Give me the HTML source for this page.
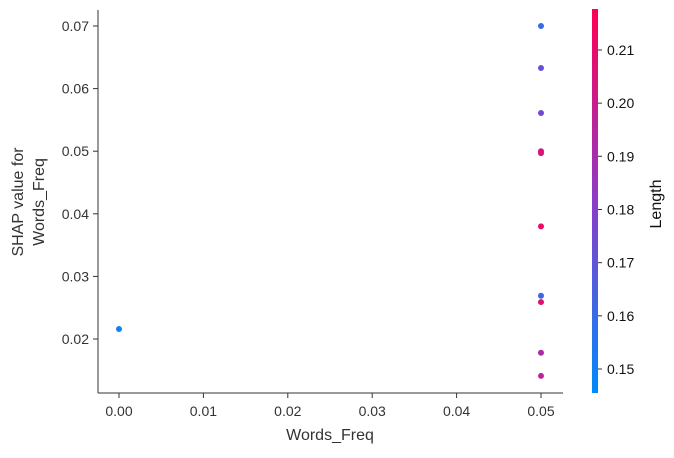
<!DOCTYPE html>
<html><head><meta charset="utf-8"><style>
body{margin:0;background:#fff;}
svg text{font-family:"Liberation Sans","DejaVu Sans",sans-serif;fill:#333;}
</style></head><body>
<svg id="chart" width="674" height="453">
<defs><linearGradient id="cb" x1="0" y1="1" x2="0" y2="0">
<stop offset="0" stop-color="rgb(0,138,250)"/><stop offset="0.5" stop-color="rgb(140,60,200)"/><stop offset="1" stop-color="rgb(255,0,82)"/>
</linearGradient></defs>
<g id="axes"></g><g id="pts"></g><g id="cbar"></g>
</svg>
<script>
const xValues=[0.0,0.05,0.05,0.05,0.05,0.05,0.05,0.05,0.05,0.05,0.05];
const yValues=[0.0216,0.0700,0.0633,0.0561,0.0500,0.0497,0.0380,0.0269,0.0259,0.0178,0.0141];
const lengthValues=[0.150,0.160,0.172,0.175,0.205,0.205,0.212,0.162,0.208,0.192,0.195];
const xTicks=[0.00,0.01,0.02,0.03,0.04,0.05];
const yTicks=[0.02,0.03,0.04,0.05,0.06,0.07];
const cTicks=[0.15,0.16,0.17,0.18,0.19,0.20,0.21];
const NS="http://www.w3.org/2000/svg";
const X=v=>119+v*8440, Y=v=>339-(v-0.02)*6260, C=v=>369-(v-0.15)*5317;
const cmin=0.1455,cmax=0.2177;
function col(v){let t=Math.max(0,Math.min(1,(v-cmin)/(cmax-cmin)));
 const a=[0,138,250],b=[140,60,200],c=[255,0,82];let p,q,s;
 if(t<0.5){p=a;q=b;s=t*2}else{p=b;q=c;s=(t-0.5)*2}
 return `rgb(${p.map((x,i)=>Math.round(x+(q[i]-x)*s)).join(',')})`;}
function mk(tag,attrs,parent,txt){const e=document.createElementNS(NS,tag);for(const k in attrs)e.setAttribute(k,attrs[k]);if(txt!==undefined)e.textContent=txt;parent.appendChild(e);return e;}
const ax=document.getElementById('axes');
let e=mk('line',{x1:98,y1:10,x2:98,y2:393,stroke:'#333','stroke-width':1},ax);


e=mk('line',{x1:98,y1:393,x2:563,y2:393,stroke:'#333','stroke-width':1},ax);


xTicks.forEach(v=>{mk('line',{x1:X(v),y1:393,x2:X(v),y2:398,stroke:'#333'},ax);
 const t=mk('text',{x:X(v),y:416,'text-anchor':'middle','font-size':14},ax,v.toFixed(2));
 
 });
yTicks.forEach(v=>{mk('line',{x1:93,y1:Y(v),x2:98,y2:Y(v),stroke:'#333'},ax);
 const t=mk('text',{x:89,y:Y(v)+5,'text-anchor':'end','font-size':14},ax,v.toFixed(2));
 
 });
e=mk('text',{x:330,y:440,'text-anchor':'middle','font-size':16},ax,'Words_Freq');


e=mk('text',{transform:'translate(23,202) rotate(-90)','text-anchor':'middle','font-size':16},ax,'SHAP value for');


e=mk('text',{transform:'translate(44,202) rotate(-90)','text-anchor':'middle','font-size':16},ax,'Words_Freq');


const pg=document.getElementById('pts');
xValues.forEach((xv,i)=>{const c=mk('circle',{cx:X(xv),cy:Y(yValues[i]),r:3,fill:col(lengthValues[i])},pg);
 
 });
const cb=document.getElementById('cbar');
e=mk('rect',{x:592,y:9,width:6,height:384,fill:'url(#cb)'},cb);


cTicks.forEach(v=>{mk('line',{x1:598,y1:C(v),x2:602,y2:C(v),stroke:'#333'},cb);
 const t=mk('text',{x:607,y:C(v)+5,'font-size':14,style:'fill:#111'},cb,v.toFixed(2));
 
 });
e=mk('text',{transform:'translate(661,204) rotate(-90)','text-anchor':'middle','font-size':16,style:'fill:#111'},cb,'Length');


</script>
</body></html>
